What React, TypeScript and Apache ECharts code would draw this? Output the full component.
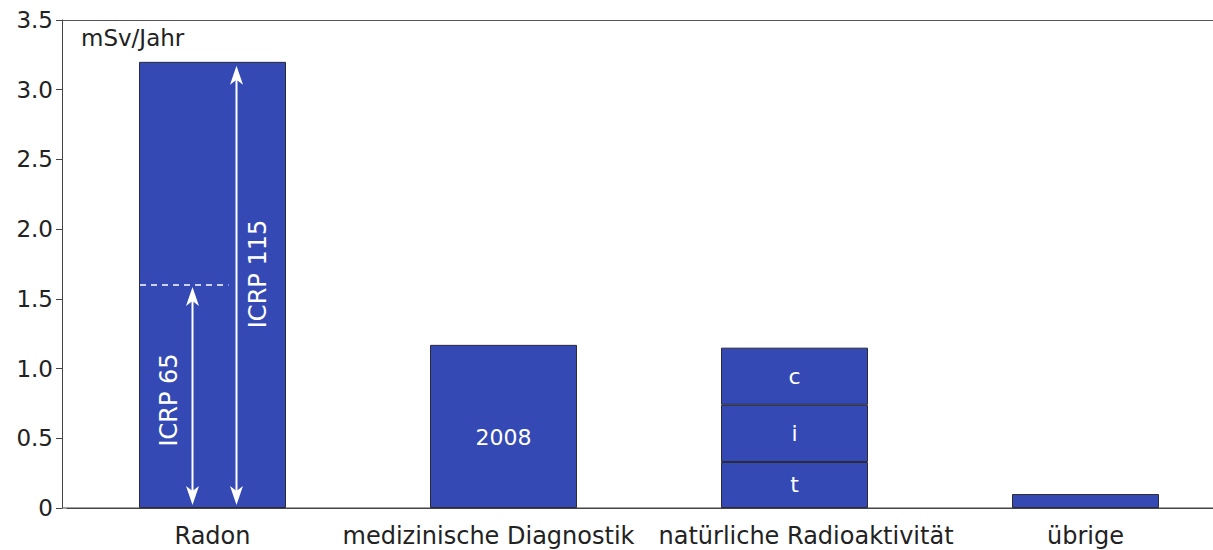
import React, { useEffect, useRef } from "react";
import * as echarts from "echarts";

const categories = ["Radon", "medizinische Diagnostik", "natürliche Radioaktivität", "übrige"];
const mainValues: (number | string)[] = [3.2, 1.17, "-", 0.1];
const mainLabels = ["", "2008", "", ""];
const natSegmentNames = ["t", "i", "c"];
const natSegmentValues = [0.33, 0.41, 0.41];
const icrp65Value = 1.6;
const icrp115Value = 3.2;
const yTicks = [0, 0.5, 1, 1.5, 2, 2.5, 3, 3.5];

const FONT = "DejaVu Sans";
const BAR = "#3449b3";
const labelPadding = [
  [0, 0, 0, 0],
  [0, 30, 0, 0],
  [0, 0, 0, 23],
  [0, 0, 0, 0],
];

export default function App() {
  const ref = useRef<HTMLDivElement>(null);
  useEffect(() => {
    if (!ref.current) return;
    const chart = echarts.init(ref.current, null, { renderer: "svg" });
    const natIndex = 2;
    const series: any[] = [
      {
        type: "bar",
        stack: "a",
        barWidth: 147,
        data: mainValues.map((v, i) => ({
          value: v,
          label: mainLabels[i]
            ? { show: true, formatter: mainLabels[i], position: "inside", offset: [0, 11] }
            : { show: false },
        })),
        itemStyle: { color: BAR, borderColor: "#2a2a3a", borderWidth: 1 },
        label: { color: "#fff", fontFamily: FONT, fontSize: 22 },
      },
      ...natSegmentNames.map((n, k) => ({
        type: "bar",
        stack: "a",
        barWidth: 147,
        name: n,
        data: categories.map((_, i) => (i === natIndex ? natSegmentValues[k] : "-")),
        itemStyle: { color: BAR, borderColor: "#2a2a3a", borderWidth: 1 },
        label: {
          show: true,
          position: "inside",
          formatter: n,
          color: "#fff",
          fontFamily: FONT,
          fontSize: 22,
        },
      })),
    ];
    chart.setOption({
      animation: false,
      grid: { left: 67, top: 20, right: 9, bottom: 42 },
      xAxis: {
        type: "category",
        data: categories.map((c, i) => ({ value: c, textStyle: { padding: labelPadding[i] } })),
        axisLine: { show: true, lineStyle: { color: "#444", width: 1 } },
        axisTick: { show: false },
        axisLabel: {
          fontFamily: FONT,
          fontSize: 24,
          lineHeight: 24,
          color: "#222",
          margin: 16,
          interval: 0,
        },
      },
      yAxis: {
        type: "value",
        min: 0,
        max: 3.5,
        interval: 0.5,
        offset: 5,
        axisLine: { show: true, lineStyle: { color: "#444", width: 1 } },
        axisTick: { show: true, length: 6, lineStyle: { color: "#444" } },
        splitLine: { show: false },
        axisLabel: {
          fontFamily: FONT,
          fontSize: 23,
          color: "#222",
          margin: 9,
          formatter: (v: number) => (yTicks.includes(v) ? (v === 0 ? "0" : v.toFixed(1)) : ""),
        },
      },
      series,
    });

    const px = (cat: string, v: number) => chart.convertToPixel({ gridIndex: 0 }, [cat, v]) as number[];
    const base = px(categories[0], 0);
    const top115 = px(categories[0], icrp115Value);
    const top65 = px(categories[0], icrp65Value);
    const cx = base[0];
    const x115 = cx + 24;
    const x65 = cx - 20;
    const barLeft = cx - 73.5;
    const white = { stroke: "#fff", lineWidth: 2 };
    const head = (x: number, y: number, dir: number) => ({
      type: "polygon",
      shape: { points: [[x, y], [x - 6.5, y + dir * 19], [x, y + dir * 14], [x + 6.5, y + dir * 19]] },
      style: { fill: "#fff" },
      z: 10,
    });
    const arrow = (x: number, y1: number, y2: number) => [
      { type: "line", shape: { x1: x, y1: y1 + 10, x2: x, y2: y2 - 10 }, style: white, z: 10 },
      head(x, y1, 1),
      head(x, y2, -1),
    ];
    chart.setOption({
      graphic: [
        { type: "line", shape: { x1: 62, y1: 20.5, x2: 1240, y2: 20.5 }, style: { stroke: "#555", lineWidth: 1 } },
        { type: "line", shape: { x1: 62, y1: base[1], x2: 1240, y2: base[1] }, style: { stroke: "#444", lineWidth: 1 } },
        {
          type: "text",
          x: 81,
          y: 38,
          style: { text: "mSv/Jahr", font: `23px '${FONT}'`, fill: "#222", textVerticalAlign: "middle" },
        },
        ...arrow(x115, top115[1] + 4, base[1] - 3),
        ...arrow(x65, top65[1] + 2, base[1] - 3),
        {
          type: "line",
          shape: { x1: barLeft + 1, y1: top65[1], x2: x65 + 36, y2: top65[1] },
          style: { stroke: "#fff", lineWidth: 1.5, lineDash: [6, 5] },
          z: 10,
        },
        {
          type: "text",
          x: x115 + 21,
          y: 274,
          rotation: Math.PI / 2,
          style: {
            text: "ICRP 115",
            font: `24px '${FONT}'`,
            fill: "#fff",
            textAlign: "center",
            textVerticalAlign: "middle",
          },
          z: 10,
        },
        {
          type: "text",
          x: x65 - 24,
          y: 400,
          rotation: Math.PI / 2,
          style: {
            text: "ICRP 65",
            font: `24px '${FONT}'`,
            fill: "#fff",
            textAlign: "center",
            textVerticalAlign: "middle",
          },
          z: 10,
        },
      ],
    });
    return () => chart.dispose();
  }, []);
  return (
    <div style={{ width: 1213, height: 550, position: "absolute", left: 0, top: 0, overflow: "hidden" }}>
      <div ref={ref} style={{ width: 1240, height: 550 }} />
    </div>
  );
}
